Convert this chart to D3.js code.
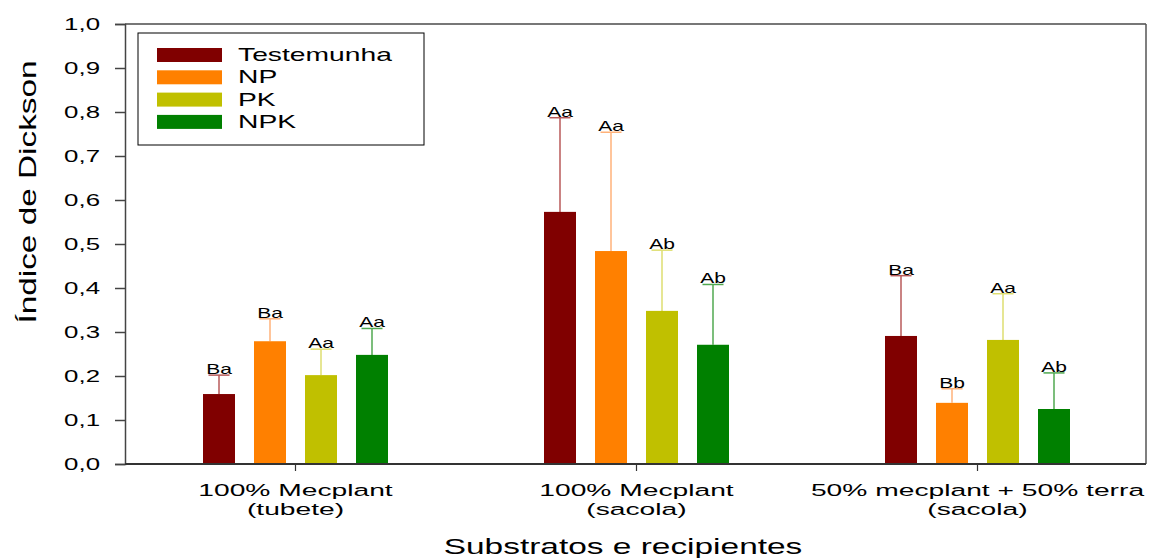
<!DOCTYPE html>
<html><head><meta charset="utf-8">
<script src="https://cdn.jsdelivr.net/npm/d3@7"></script>
<style>body{margin:0;background:#fff;} text{font-family:"Liberation Sans",Arial,sans-serif;fill:#000;}</style>
</head><body><svg id="c" width="1149" height="558"></svg>
<script>
const groups = ["100% Mecplant|(tubete)", "100% Mecplant|(sacola)", "50% mecplant + 50% terra|(sacola)"];
const series = ["Testemunha", "NP", "PK", "NPK"];
const colors = ["#800000", "#ff8000", "#c0c000", "#008000"];
const errColors = ["#b85a5a", "#ffb27a", "#dede70", "#50a850"];
const means = [
  [0.159, 0.279, 0.202, 0.248],
  [0.573, 0.484, 0.348, 0.271],
  [0.291, 0.139, 0.282, 0.125]
];
const upper = [
  [0.202, 0.330, 0.261, 0.308],
  [0.787, 0.754, 0.486, 0.408],
  [0.428, 0.171, 0.387, 0.207]
];
const letters = [
  ["Ba", "Ba", "Aa", "Aa"],
  ["Aa", "Aa", "Ab", "Ab"],
  ["Ba", "Bb", "Aa", "Ab"]
];
const yTicks = [0,0.1,0.2,0.3,0.4,0.5,0.6,0.7,0.8,0.9,1.0];

const svg = d3.select("#c");
const L = 125, R = 1146, T = 24, B = 464;
const x0 = d3.scaleBand().domain(groups).range([L, L + 3*341]).paddingInner(0).paddingOuter(0);
const x1 = d3.scaleBand().domain(series).range([-92.5, 92.5]).paddingInner(19/51).paddingOuter(0);
const y = d3.scaleLinear().domain([0, 1]).range([B, T]);

function stext(sel, x, yy, str, size, sx, anchor, rot) {
  return sel.append("text")
    .attr("transform", `translate(${x},${yy})` + (rot ? ` rotate(${rot})` : "") + ` scale(${sx},1)`)
    .attr("text-anchor", anchor).attr("font-size", size).text(str);
}

// frame
svg.append("line").attr("x1", L).attr("x2", R).attr("y1", T).attr("y2", T).attr("stroke", "#777").attr("stroke-width", 2);
svg.append("line").attr("x1", R).attr("x2", R).attr("y1", T).attr("y2", B).attr("stroke", "#555").attr("stroke-width", 1.5);

// y axis
const ya = svg.append("g").attr("transform", `translate(${L},0)`)
  .call(d3.axisLeft(y).tickValues(yTicks).tickSize(10).tickFormat(""));
ya.select(".domain").attr("stroke", "#444").attr("stroke-width", 1.5);
ya.selectAll(".tick line").attr("stroke", "#444").attr("stroke-width", 1.5);
yTicks.forEach(v => {
  stext(svg, 100, y(v) + 6, d3.format(".1f")(v).replace(".", ","), 17, 1.52, "end");
});

// bars
const g = svg.selectAll("g.grp").data(groups).join("g").attr("class", "grp")
  .attr("transform", d => `translate(${x0(d) + x0.bandwidth()/2},0)`);
g.each(function(gname, gi) {
  const gg = d3.select(this);
  series.forEach((s, si) => {
    const bx = x1(s), bw = x1.bandwidth(), cx = bx + bw/2;
    gg.append("line").attr("x1", cx).attr("x2", cx).attr("y1", y(means[gi][si])).attr("y2", y(upper[gi][si]))
      .attr("stroke", errColors[si]).attr("stroke-width", 1.5);
    gg.append("line").attr("x1", cx - 10.5).attr("x2", cx + 10.5).attr("y1", y(upper[gi][si])).attr("y2", y(upper[gi][si]))
      .attr("stroke", errColors[si]).attr("stroke-width", 1.5);
    gg.append("rect").attr("x", bx).attr("width", bw).attr("y", y(means[gi][si]))
      .attr("height", y(0) - y(means[gi][si])).attr("fill", colors[si]);
    stext(gg, cx, y(upper[gi][si]) - 1, letters[gi][si], 14, 1.5, "middle");
  });
});

// x axis
const xa = svg.append("g").attr("transform", `translate(0,${B})`)
  .call(d3.axisBottom(x0).tickSize(7).tickFormat(""));
xa.select(".domain").attr("stroke", "#333").attr("stroke-width", 2).attr("d", `M${L},0H${R}`);
xa.selectAll(".tick line").attr("stroke", "#333").attr("stroke-width", 1.2);
groups.forEach(gname => {
  const cx = x0(gname) + x0.bandwidth()/2;
  const parts = gname.split("|");
  stext(svg, cx, 496, parts[0], 17, 1.66, "middle");
  stext(svg, cx, 515, parts[1], 17, 1.66, "middle");
});

// titles
stext(svg, 623, 554, "Substratos e recipientes", 22, 1.52, "middle");
stext(svg, 36, 192, "Índice de Dickson", 23, 1.45, "middle", -90);

// legend
const lg = svg.append("g");
lg.append("rect").attr("x", 138).attr("y", 33).attr("width", 286).attr("height", 112)
  .attr("fill", "#fff").attr("stroke", "#000").attr("stroke-width", 1);
series.forEach((s, i) => {
  const yy = 48 + i * 22.3;
  lg.append("rect").attr("x", 157).attr("y", yy).attr("width", 65).attr("height", 14).attr("fill", colors[i]);
  stext(lg, 238, yy + 13, s, 18, 1.57, "start");
});
</script></body></html>
